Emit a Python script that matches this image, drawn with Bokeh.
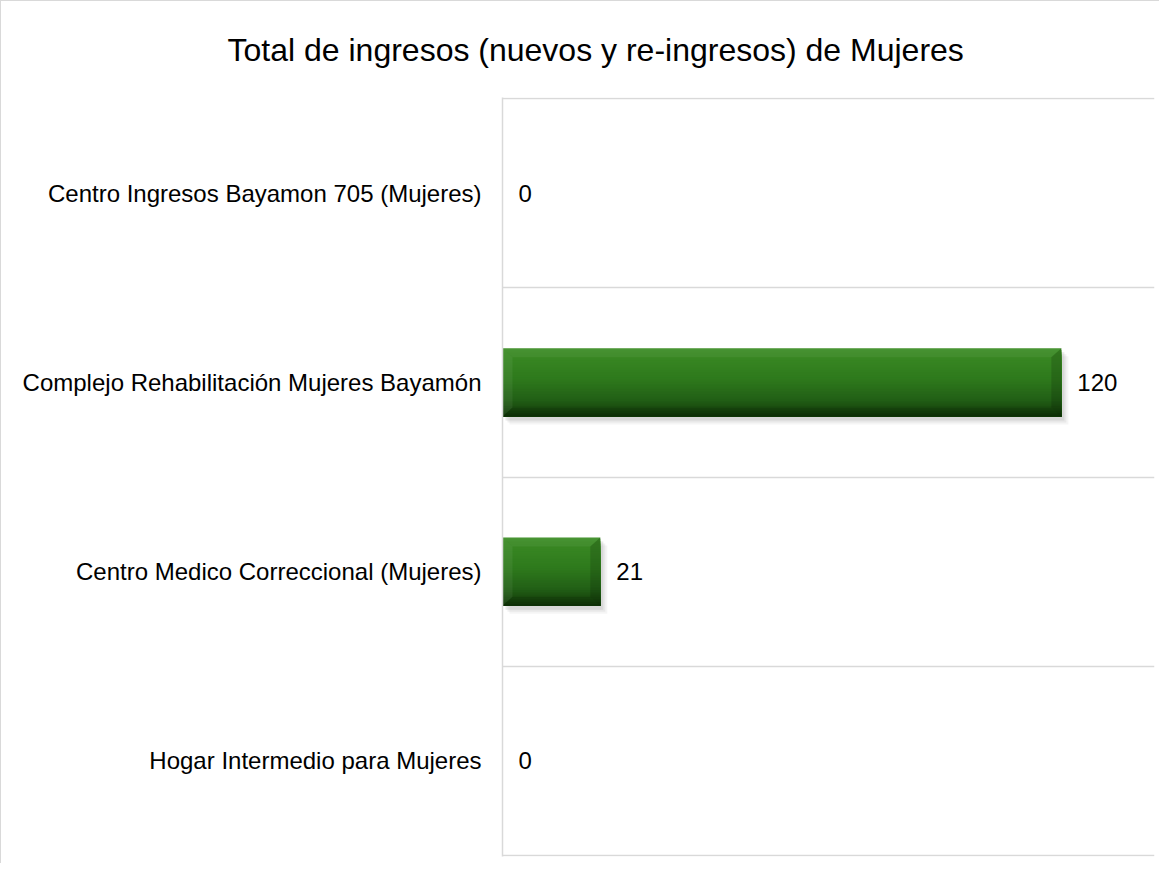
from bokeh.plotting import figure
from bokeh.models import Range1d, FixedTicker, ColumnDataSource, Title
from bokeh.core.properties import value
from bokeh.embed import file_html
from bokeh.resources import INLINE

# ---- data ----
categories = [
    "Centro Ingresos Bayamon 705 (Mujeres)",
    "Complejo Rehabilitación Mujeres Bayamón",
    "Centro Medico Correccional (Mujeres)",
    "Hogar Intermedio para Mujeres",
]
counts = [0, 120, 21, 0]
title_text = "Total de ingresos (nuevos y re-ingresos) de Mujeres"

# ---- layout / style constants ----
W, H = 1159, 863
ML, MR, MT, MB = 501, 6, 96, 8
XMAX = 140
n = len(categories)
frame_w = W - ML - MR
frame_h = H - MT - MB
px_x = XMAX / frame_w          # data units per pixel (x)
px_y = n / frame_h             # data units per pixel (y)
PAD = 1.0 * px_y
BAR_H = 0.36
FONT = "Liberation Sans"

ypos = [n - i - 0.5 for i in range(n)]

p = figure(width=W, height=H, output_backend="svg", toolbar_location=None,
           x_range=Range1d(0, XMAX), y_range=Range1d(-PAD, n + PAD),
           min_border_left=ML, min_border_right=MR, min_border_top=MT,
           min_border_bottom=MB, outline_line_color=None,
           background_fill_color="white", border_fill_color="white")
p.styles = {"border-left": "1px solid #d9d9d9", "border-top": "1px solid #d9d9d9"}

t = Title(text=title_text, align="left", offset=-275, text_font=FONT,
          text_font_size="32px", text_font_style="normal", text_color="#000000",
          standoff=55, vertical_align="top")
p.title = t

# axes
p.xaxis.visible = False
p.xgrid.visible = False
ax = p.yaxis[0]
ax.ticker = FixedTicker(ticks=ypos)
ax.major_label_overrides = {y: c for y, c in zip(ypos, categories)}
ax.major_tick_line_color = None
ax.minor_tick_line_color = None
ax.axis_line_color = "#d9d9d9"
ax.axis_line_width = 1.5
ax.major_label_text_font = FONT
ax.major_label_text_font_size = "24px"
ax.major_label_text_color = "#000000"
ax.major_label_standoff = 15
p.ygrid.ticker = FixedTicker(ticks=list(range(n + 1)))
p.ygrid.grid_line_color = "#d9d9d9"
p.ygrid.grid_line_width = 1.5

# ---- bars ----
bars = [(y, v) for y, v in zip(ypos, counts) if v > 0]

# shadow
for dx, dy, a in [(7, 8, 0.10), (5, 6, 0.15), (3, 4, 0.22)]:
    p.hbar(y=[y - dy * px_y for y, v in bars], right=[v + dx * px_x for y, v in bars],
           left=[dx * px_x for y, v in bars], height=BAR_H,
           fill_color="#a0a0a0", fill_alpha=a, line_color=None)

# vertical gradient: strips painted top to bottom, each reaching the bar bottom
stops = [(0.0, (64, 144, 42)), (0.06, (58, 137, 36)), (0.45, (46, 121, 28)),
         (0.75, (34, 96, 22)), (0.92, (22, 68, 12)), (1.0, (14, 50, 6))]

def col(tt):
    for (t0, c0), (t1, c1) in zip(stops[:-1], stops[1:]):
        if t0 <= tt <= t1:
            f = (tt - t0) / (t1 - t0)
            c = [round(a + (b - a) * f) for a, b in zip(c0, c1)]
            return "#%02x%02x%02x" % tuple(c)
    return "#0e3206"

NS = 40
sh = BAR_H / NS
ys, hs, rs, cs = [], [], [], []
for y, v in bars:
    top = y + BAR_H / 2
    bot = y - BAR_H / 2
    for s in range(NS):
        st = top - s * sh
        ys.append((st + bot) / 2)
        hs.append(st - bot)
        rs.append(v)
        cs.append(col((s + 0.5) / NS))
p.hbar(y=ys, right=rs, left=0, height=hs, fill_color=cs, line_color=None)

# bevel facets
bx = 10 * px_x
by = 9 * px_y
fx, fy, fc, fa = [], [], [], []
for y, v in bars:
    tp, bt = y + BAR_H / 2, y - BAR_H / 2
    fx.append([0, bx, bx, 0]); fy.append([tp, tp - by, bt + by, bt]); fc.append("white"); fa.append(0.06)
    fx.append([0, v, v - bx, bx]); fy.append([tp, tp, tp - by, tp - by]); fc.append("white"); fa.append(0.05)
    fx.append([v, v, v - bx, v - bx]); fy.append([tp, bt, bt + by, tp - by]); fc.append("black"); fa.append(0.15)
    fx.append([0, bx, v - bx, v]); fy.append([bt, bt + by, bt + by, bt]); fc.append("black"); fa.append(0.10)
p.patches(xs=fx, ys=fy, fill_color=fc, fill_alpha=fa, line_color=None)

# value labels
src = ColumnDataSource(dict(x=counts, y=ypos, t=[str(v) for v in counts]))
p.text(x="x", y="y", text="t", source=src, x_offset=16, text_baseline="middle",
       text_align="left", text_font=value(FONT), text_font_size="24px",
       text_color="#000000")

open("out.html", "w").write(file_html(p, INLINE))
